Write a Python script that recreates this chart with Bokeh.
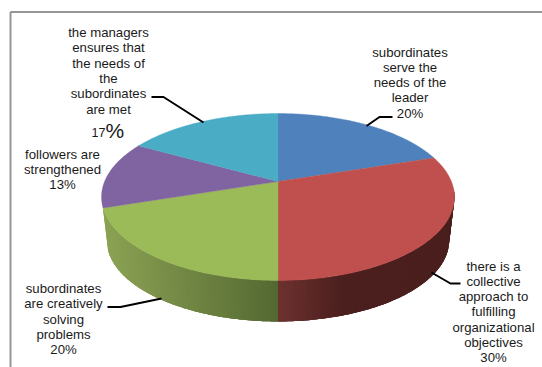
import numpy as np
from bokeh.embed import file_html
from bokeh.models import Range1d
from bokeh.plotting import figure
from bokeh.resources import INLINE
from bokeh.core.properties import value

# Shares of each leadership statement, clockwise from twelve o'clock
categories = [
    "subordinates serve the needs of the leader",
    "there is a collective approach to fulfilling organizational objectives",
    "subordinates are creatively solving problems",
    "followers are strengthened",
    "the managers ensures that the needs of the subordinates are met",
]
shares = [20, 30, 20, 13, 17]
top_colors = ["#4f81bd", "#c0504d", "#9bbb59", "#8064a2", "#4bacc6"]
# Rim shading, from the end nearest the front of the pie to the far end,
# with how much of the wall's width the fade takes up
wall_front = {1: (110, 50, 48), 2: (84, 104, 50)}
wall_back = {1: (74, 31, 29), 2: (140, 163, 84)}
wall_fade = {1: 0.4, 2: 1.0}

WIDTH, HEIGHT = 542, 367
CX, APEX_Y, RX, RY_FACTOR, TILT = 277.5, 181.0, 173.4, 80.6, 0.1856
ELLIPSE_CY = 196.5
BASE_SCALE, BASE_CY = 0.97, 240.0


def rim(theta):
    """Project disc angles (clockwise from the top) onto the tilted pie's upper face."""
    u, v = np.sin(theta), np.cos(theta)
    d = 1 + TILT * v
    return CX + RX * u / d, APEX_Y - RY_FACTOR * v / d


def base(theta):
    x, y = rim(theta)
    return CX + BASE_SCALE * (x - CX), BASE_CY + BASE_SCALE * (y - ELLIPSE_CY)


p = figure(
    width=WIDTH, height=HEIGHT, output_backend="svg", toolbar_location=None,
    x_range=Range1d(0, WIDTH), y_range=Range1d(HEIGHT, 0), min_border=0,
    outline_line_color=None, background_fill_color="white",
)
p.xaxis.visible = False
p.yaxis.visible = False
p.grid.visible = False

# Chart frame
p.line([10, 10], [HEIGHT, 11.5], line_color="#969696", line_width=2)
p.line([10, WIDTH], [11.5, 11.5], line_color="#969696", line_width=2)

edges = np.cumsum([0] + shares) / sum(shares) * 2 * np.pi

# Outer wall: strips painted from the far end to the front, each running on
# under the next so no seams show
for i, (start, stop) in {1: (np.radians(95), edges[2]), 2: (np.radians(253), edges[2])}.items():
    angles = np.linspace(start, stop, 90)
    tx, ty = rim(angles)
    bx, by = base(angles)
    span = abs(tx[-1] - tx[0])
    xs, ys, colors = [], [], []
    for k in range(len(angles) - 1):
        xs.append(np.r_[tx[k:k + 4], bx[k:k + 4][::-1]])
        ys.append(np.r_[ty[k:k + 4], by[k:k + 4][::-1]])
        t = min(abs(tx[k] - tx[-1]) / (span * wall_fade[i]), 1.0)
        c = [int(f + (b - f) * t) for f, b in zip(wall_front[i], wall_back[i])]
        colors.append("#%02x%02x%02x" % tuple(c))
    p.patches(xs, ys, fill_color=colors, line_color=None)

# Upper face
for i, color in enumerate(top_colors):
    angles = np.linspace(edges[i], edges[i + 1], 120)
    x, y = rim(angles)
    p.patch(np.r_[CX, x], np.r_[APEX_Y, y], fill_color=color, line_color=color, line_width=0.4)

# Leader lines
leaders = [
    ([366, 379, 392], [125.5, 116.5, 116.5]),
    ([431, 450, 460], [272, 283, 283]),
    ([161, 120, 107], [298, 306.5, 306.5]),
    ([203, 163, 151], [122, 96.5, 96.5]),
]
for lx, ly in leaders:
    p.line(lx, ly, line_color="black", line_width=2)

FONT = value("Liberation Sans")
TEXT = "#1a1a1a"
SIZE = "13.2px"
LINE = 15.3


def block(x, first_y, lines):
    ys = [first_y + LINE * k for k in range(len(lines))]
    p.text([x] * len(lines), ys, text=lines, text_font=FONT, text_font_size=SIZE,
           text_color=TEXT, text_align="center", text_baseline="middle")


block(409.5, 51.5, ["subordinates", "serve the", "needs of the", "leader", f"{shares[0]}%"])
block(493, 265.5, ["there is a", "collective", "approach to", "fulfilling", "organizational",
                   "objectives", f"{shares[1]}%"])
block(63, 288, ["subordinates", "are creatively", "solving", "problems", f"{shares[2]}%"])
block(62, 153.5, ["followers are", "strengthened", f"{shares[3]}%"])
block(108, 32, ["the managers", "ensures that", "the needs of", "the", "subordinates", "are met"])

# The last percentage is set with a small number and an oversized sign
p.text([105], [132], text=[str(shares[4])], text_font=FONT, text_font_size="12.5px",
       text_color=TEXT, text_align="right", text_baseline="middle")
p.text([105], [129.5], text=["%"], text_font=FONT, text_font_size="21px",
       text_color=TEXT, text_align="left", text_baseline="middle")

open("out.html", "w").write(file_html(p, INLINE))
